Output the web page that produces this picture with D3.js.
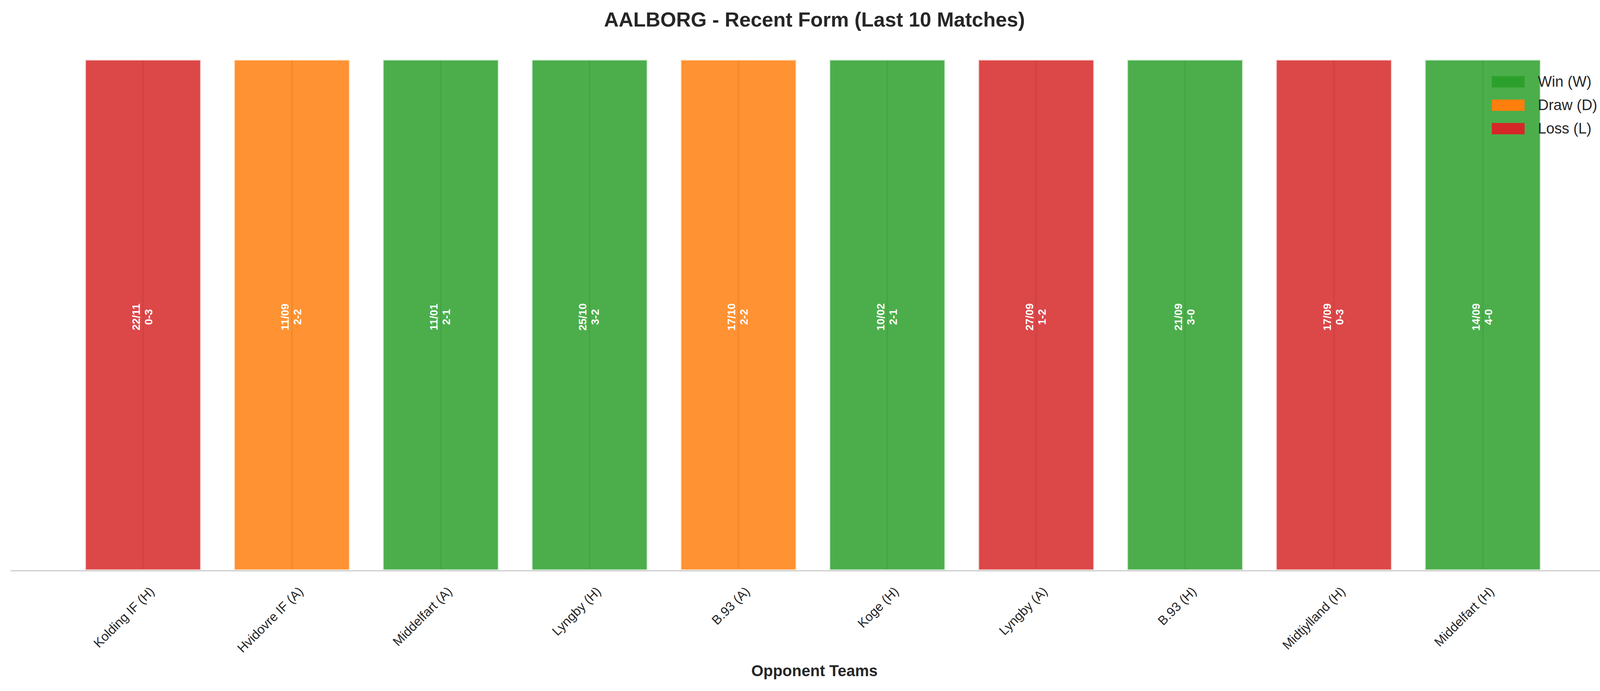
<!DOCTYPE html>
<html><head><meta charset="utf-8">
<script src="https://cdn.jsdelivr.net/npm/d3@7"></script>
<style>body{margin:0;background:#fff}svg{display:block;font-family:"Liberation Sans",Arial,sans-serif}</style>
</head><body><svg id="c" width="4170" height="1770"></svg>
<script>
const opponents=["Kolding IF (H)","Hvidovre IF (A)","Middelfart (A)","Lyngby (H)","B.93 (A)","Koge (H)","Lyngby (A)","B.93 (H)","Midtjylland (H)","Middelfart (H)"];
const results=["L","D","W","W","D","W","L","W","L","W"];
const dates=["22/11","11/09","11/01","25/10","17/10","10/02","27/09","21/09","17/09","14/09"];
const scores=["0-3","2-2","2-1","3-2","2-2","2-1","1-2","3-0","0-3","4-0"];
const heights=[1,1,1,1,1,1,1,1,1,1];
const colors={W:"#2ca02c",D:"#ff7f0e",L:"#d62728"};
const legendItems=[["W","Win (W)"],["D","Draw (D)"],["L","Loss (L)"]];

const svg=d3.select("#c");
const x=d3.scaleLinear().domain([-0.89,9.89]).range([27,4135]);
const y=d3.scaleLinear().domain([0,1.05]).range([1461,87]);
const bw=x(0.78)-x(0);

svg.append("text").attr("x",2085).attr("y",68).attr("text-anchor","middle")
 .attr("font-size",52).attr("font-weight","bold").attr("fill","#262626")
 .text("AALBORG - Recent Form (Last 10 Matches)");

const g=svg.append("g");
opponents.forEach((o,i)=>{
  const cx=x(i);
  g.append("rect").attr("x",cx-bw/2).attr("y",y(heights[i])).attr("width",bw).attr("height",y(0)-y(heights[i]))
   .attr("fill",colors[results[i]]).attr("fill-opacity",0.85)
   .attr("stroke","#fff").attr("stroke-width",5).attr("stroke-opacity",0.8);
  g.append("line").attr("x1",cx).attr("x2",cx).attr("y1",y(heights[i])+3).attr("y2",y(0)-3)
   .attr("stroke","#000").attr("stroke-opacity",0.06).attr("stroke-width",4);
  const t=g.append("text").attr("transform",`translate(${cx},812) rotate(-90)`)
   .attr("text-anchor","middle").attr("fill","#fff").attr("font-weight","bold").attr("font-size",28);
  t.append("tspan").attr("x",0).attr("dy",-8).text(dates[i]);
  t.append("tspan").attr("x",0).attr("dy",32).text(scores[i]);
  svg.append("text").attr("transform",`translate(${cx+14},1500) rotate(-45)`)
   .attr("text-anchor","end").attr("dominant-baseline","hanging").attr("font-size",33).attr("fill","#262626").text(o);
});
svg.append("line").attr("x1",27).attr("x2",4170).attr("y1",1462).attr("y2",1462).attr("stroke","#cccccc").attr("stroke-width",3);

svg.append("text").attr("x",2085).attr("y",1732).attr("text-anchor","middle")
 .attr("font-size",40).attr("font-weight","bold").attr("fill","#262626").text("Opponent Teams");

legendItems.forEach(([k,l],i)=>{
  const yy=209+i*60;
  svg.append("rect").attr("x",3819).attr("y",yy-14).attr("width",84).attr("height",29).attr("fill",colors[k]);
  svg.append("text").attr("x",3937).attr("y",yy+13).attr("font-size",38).attr("fill","#262626").text(l);
});
</script></body></html>
